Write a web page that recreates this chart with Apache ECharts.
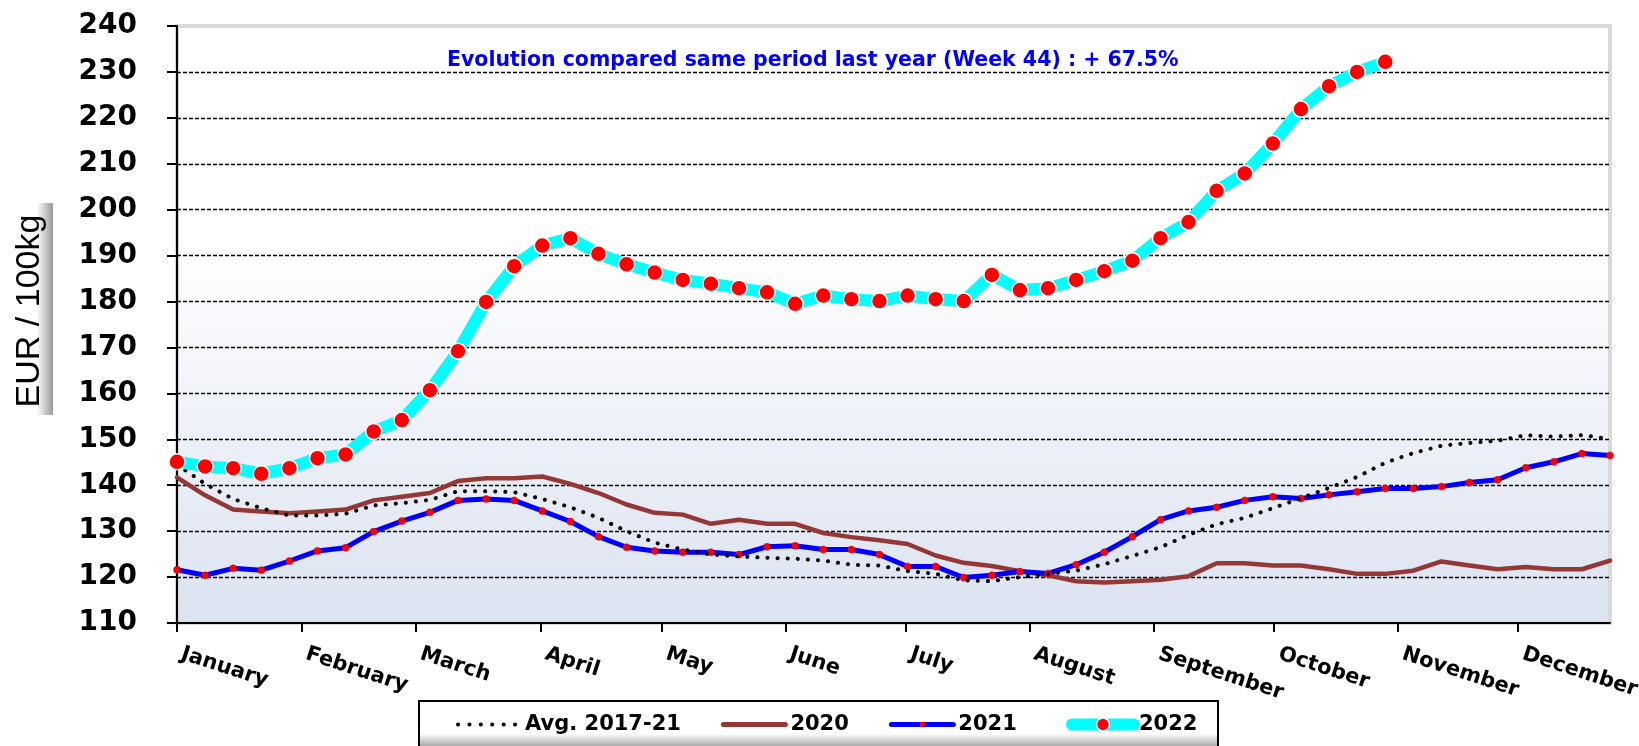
<!DOCTYPE html>
<html>
<head>
<meta charset="utf-8">
<script src="https://cdn.jsdelivr.net/npm/echarts@6/dist/echarts.min.js"></script>
<style>
html,body{margin:0;padding:0;background:#fff;}
#chart{width:1639px;height:746px;}
</style>
</head>
<body>
<div id="chart"></div>
<script>
// ---- data (weekly prices, EUR / 100kg) ----
const monthNames = ['January','February','March','April','May','June','July','August','September','October','November','December'];
const monthTickWeeks = [0, 4.43, 8.5, 12.95, 17.25, 21.65, 25.95, 30.35, 34.78, 39.05, 43.45, 47.73];
const yTicks = {min: 110, max: 240, step: 10};

const avg2017_21 = [144.5,140.3,137.0,135.0,133.4,133.4,133.8,135.6,136.1,136.8,138.7,138.7,138.5,137.0,135.2,132.9,130.0,127.5,126.0,124.9,124.5,124.2,124.0,123.6,122.7,122.5,121.3,120.7,119.3,119.1,120.0,120.7,121.4,122.8,124.6,126.5,129.2,131.5,132.9,135.0,137.2,139.4,141.8,144.9,147.0,148.6,149.2,149.7,150.9,150.6,150.9,150.1];
const y2020 = [141.7,137.8,134.7,134.3,133.9,134.3,134.7,136.7,137.5,138.3,140.9,141.5,141.5,141.9,140.3,138.3,135.8,134.0,133.6,131.6,132.5,131.6,131.6,129.6,128.7,128.0,127.2,124.7,123.1,122.4,121.3,120.4,119.1,118.8,119.1,119.4,120.2,123.0,123.0,122.5,122.5,121.7,120.7,120.7,121.4,123.4,122.5,121.7,122.2,121.7,121.7,123.6];
const y2021 = [121.6,120.4,121.9,121.5,123.5,125.7,126.4,129.9,132.2,134.1,136.7,137.0,136.7,134.4,132.1,128.8,126.5,125.7,125.4,125.4,124.9,126.6,126.8,126.0,126.0,124.9,122.3,122.3,119.9,120.4,121.2,120.8,122.7,125.4,128.8,132.5,134.4,135.2,136.7,137.5,137.1,137.9,138.6,139.3,139.3,139.7,140.6,141.2,143.8,145.1,146.9,146.5];
const y2022 = [145.1,144.1,143.7,142.5,143.7,145.9,146.7,151.7,154.2,160.7,169.2,179.9,187.7,192.2,193.8,190.4,188.1,186.3,184.7,183.9,182.9,182.0,179.5,181.3,180.5,180.1,181.3,180.5,180.1,185.8,182.5,182.9,184.7,186.6,188.9,193.8,197.3,204.1,207.9,214.4,221.9,226.9,230.0,232.2];

const seriesNames = ['Avg. 2017-21','2020','2021','2022'];
const titleText = 'Evolution compared same period last year (Week 44) : + 67.5%';
const yAxisTitle = 'EUR / 100kg';

function toPairs(arr){ return arr.map((v,i)=>[i,v]); }

const chart = echarts.init(document.getElementById('chart'), null, {renderer:'canvas'});
const lab = 'DejaVu Sans';

const option = {
  animation: false,
  backgroundColor: '#ffffff',
  title: {
    text: titleText,
    left: 447, top: 50, padding: 0,
    textStyle: {fontFamily: lab, fontWeight: 'bold', fontSize: 20.5, color: '#0000ff'}
  },
  grid: {
    left: 177, right: 29, top: 26, bottom: 123,
    show: true,
    borderColor: '#d9d9d9', borderWidth: 4,
    backgroundColor: new echarts.graphic.LinearGradient(0,0,0,1,[
      {offset:0, color:'#ffffff'},{offset:0.36, color:'#ffffff'},{offset:1, color:'#dbe2f0'}
    ]),
    outerBoundsMode: 'none'
  },
  graphic: [{
    type: 'rect', z: 0, silent: true,
    shape: {x: 419, y: 701, width: 799, height: 46},
    style: {
      fill: new echarts.graphic.LinearGradient(0,0,0,1,[
        {offset:0,color:'#ffffff'},{offset:0.7,color:'#ffffff'},{offset:1,color:'#9c9c9c'}
      ]),
      stroke: '#000', lineWidth: 2
    }
  },{
    type: 'rect', z: 0, silent: true,
    shape: {x: 5, y: 203, width: 48, height: 212},
    style: {
      fill: new echarts.graphic.LinearGradient(0,0,1,0,[
        {offset:0,color:'#ffffff'},{offset:0.66,color:'#ffffff'},{offset:1,color:'#9a9a9a'}
      ])
    }
  },{
    type: 'text', z: 1, silent: true,
    x: 30, y: 311, rotation: Math.PI/2,
    style: {
      text: yAxisTitle, fontFamily: 'Liberation Sans', fontSize: 34, fill: '#000',
      align: 'center', verticalAlign: 'middle'
    }
  }],
  legend: [{
    data: [
      {name: seriesNames[0], itemStyle:{opacity:0}, lineStyle:{color:'#000', width:4, type:[0.1,11.3], cap:'round'}},
      {name: seriesNames[1], itemStyle:{opacity:0}, lineStyle:{color:'#953735', width:5, cap:'round'}},
      {name: seriesNames[2], itemStyle:{color:'#ff0000', borderWidth:0}, lineStyle:{color:'#0000ff', width:5, cap:'round'}}
    ],
    orient: 'horizontal', left: 456, top: 714, padding: 0,
    itemWidth: 62, itemHeight: 7, itemGap: 40,
    selectedMode: false,
    textStyle: {fontFamily: lab, fontWeight:'bold', fontSize: 21, color:'#000'}
  },{
    data: [
      {name: seriesNames[3], itemStyle:{color:'#ff0000', borderColor:'#fff', borderWidth:1.5}, lineStyle:{color:'#00ffff', width:12, cap:'round'}}
    ],
    orient: 'horizontal', left: 1066, top: 714, padding: 0,
    itemWidth: 62, itemHeight: 16, itemGap: 40,
    selectedMode: false,
    textStyle: {fontFamily: lab, fontWeight:'bold', fontSize: 21, color:'#000'}
  }],
  xAxis: {
    type: 'value', min: 0, max: 51,
    axisLine: {show: true, onZero: false, lineStyle: {color:'#000', width: 2}},
    axisTick: {show: true, inside: false, length: 9, customValues: monthTickWeeks, lineStyle:{color:'#000', width: 2}},
    axisLabel: {
      show: true, customValues: monthTickWeeks, rotate: -18, margin: 29,
      padding: [0, 0, 0, 5],
      fontFamily: lab, fontWeight: 'bold', fontSize: 21, color: '#000',
      formatter: function(v){
        const k = monthTickWeeks.findIndex(t => Math.abs(t - v) < 0.01);
        return k >= 0 ? monthNames[k] : '';
      }
    },
    splitLine: {show: false}
  },
  yAxis: {
    type: 'value', min: yTicks.min, max: yTicks.max, interval: yTicks.step,
    axisLine: {show: true, lineStyle: {color:'#000', width: 2}},
    axisTick: {show: true, inside: false, length: 10, lineStyle:{color:'#000', width: 2}},
    axisLabel: {margin: 40, fontFamily: lab, fontWeight:'bold', fontSize: 28, color:'#000'},
    splitLine: {show: true, showMinLine: false, showMaxLine: false, lineStyle: {color:'#000', width: 1.3, type: [4, 2]}}
  },
  series: [
    {
      name: seriesNames[1], type: 'line', data: toPairs(y2020), z: 3,
      showSymbol: false, symbol: 'none',
      lineStyle: {color:'#953735', width: 4.5, join:'round', cap:'round'},
      itemStyle: {color:'#953735'}
    },
    {
      name: seriesNames[2], type: 'line', data: toPairs(y2021), z: 4,
      symbol: 'circle', symbolSize: 7, showSymbol: true,
      lineStyle: {color:'#0000ff', width: 5, join:'round', cap:'round'},
      itemStyle: {color:'#ff0000', borderColor:'#d00000', borderWidth: 0.5}
    },
    {
      name: seriesNames[0], type: 'line', data: toPairs(avg2017_21), z: 5,
      showSymbol: false, symbol: 'none',
      lineStyle: {color:'#000', width: 4, type: [0.1, 10], cap: 'round', join:'round'},
      itemStyle: {color:'#000'}
    },
    {
      name: seriesNames[3], type: 'line', data: toPairs(y2022), z: 6,
      symbol: 'circle', symbolSize: 16, showSymbol: true,
      lineStyle: {color:'#00ffff', width: 12, join:'round', cap:'round'},
      itemStyle: {color:'#ff0000', borderColor:'#ffffff', borderWidth: 1.5}
    }
  ]
};
chart.setOption(option);
</script>
</body>
</html>
